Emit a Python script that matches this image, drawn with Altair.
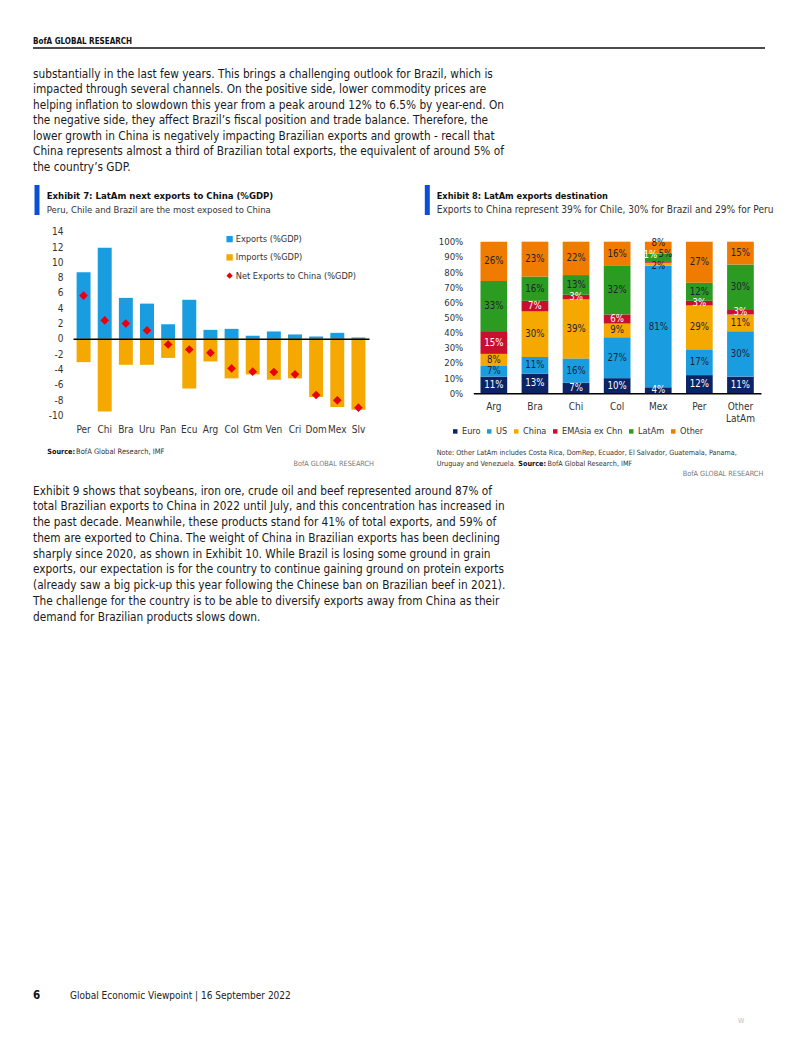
import altair as alt
import pandas as pd

FONT = "DejaVu Sans Condensed, DejaVu Sans, sans-serif"
W, H = 786, 1021

# ---------------- Exhibit 7 data ----------------
countries7 = ['Per', 'Chi', 'Bra', 'Uru', 'Pan', 'Ecu', 'Arg', 'Col', 'Gtm', 'Ven', 'Cri', 'Dom', 'Mex', 'Slv']
exports7 = [8.7, 11.9, 5.35, 4.6, 1.9, 5.1, 1.17, 1.3, 0.4, 0.96, 0.57, 0.3, 0.78, 0.17]
imports7 = [-3.05, -9.5, -3.4, -3.4, -2.5, -6.5, -2.96, -5.17, -4.65, -5.35, -5.17, -7.6, -8.9, -9.26]
net7 = [5.65, 2.4, 2.0, 1.1, -0.75, -1.4, -1.83, -3.87, -4.3, -4.35, -4.65, -7.35, -8.04, -9.0]
series7 = ['Exports (%GDP)', 'Imports (%GDP)', 'Net Exports to China (%GDP)']
colors7 = ['#1a9de0', '#f5a800', '#e8000b']
yticks7 = [-10, -8, -6, -4, -2, 0, 2, 4, 6, 8, 10, 12, 14]

# ---------------- Exhibit 8 data ----------------
cats8 = ['Arg', 'Bra', 'Chi', 'Col', 'Mex', 'Per', 'Other LatAm']
dests8 = ['Euro', 'US', 'China', 'EMAsia ex Chn', 'LatAm', 'Other']
euro8 = [11, 13, 7, 10, 4, 12, 11]
us8 = [7, 11, 16, 27, 81, 17, 30]
china8 = [8, 30, 39, 9, 2, 29, 11]
emasia8 = [15, 7, 3, 6, 1, 3, 3]
latam8 = [33, 16, 13, 32, 5, 12, 30]
other8 = [26, 23, 22, 16, 8, 27, 15]
colors8 = ['#0a2466', '#1a9de0', '#f5a800', '#c8102e', '#2c9b22', '#ef7b00']
yticks8 = [0, 0.1, 0.2, 0.3, 0.4, 0.5, 0.6, 0.7, 0.8, 0.9, 1.0]

# ---------------- Page text ----------------
header = "BofA GLOBAL RESEARCH"
para1 = [
    "substantially in the last few years. This brings a challenging outlook for Brazil, which is",
    "impacted through several channels. On the positive side, lower commodity prices are",
    "helping inflation to slowdown this year from a peak around 12% to 6.5% by year-end. On",
    "the negative side, they affect Brazil\u2019s fiscal position and trade balance. Therefore, the",
    "lower growth in China is negatively impacting Brazilian exports and growth - recall that",
    "China represents almost a third of Brazilian total exports, the equivalent of around 5% of",
    "the country\u2019s GDP.",
]
para2 = [
    "Exhibit 9 shows that soybeans, iron ore, crude oil and beef represented around 87% of",
    "total Brazilian exports to China in 2022 until July, and this concentration has increased in",
    "the past decade. Meanwhile, these products stand for 41% of total exports, and 59% of",
    "them are exported to China. The weight of China in Brazilian exports has been declining",
    "sharply since 2020, as shown in Exhibit 10. While Brazil is losing some ground in grain",
    "exports, our expectation is for the country to continue gaining ground on protein exports",
    "(already saw a big pick-up this year following the Chinese ban on Brazilian beef in 2021).",
    "The challenge for the country is to be able to diversify exports away from China as their",
    "demand for Brazilian products slows down.",
]
title7 = "Exhibit 7: LatAm next exports to China (%GDP)"
sub7 = "Peru, Chile and Brazil are the most exposed to China"
title8 = "Exhibit 8: LatAm exports destination"
sub8 = "Exports to China represent 39% for Chile, 30% for Brazil and 29% for Peru"
note8a = "Note: Other  LatAm includes Costa Rica,  DomRep, Ecuador,  El Salvador, Guatemala, Panama,"
note8b = "Uruguay and Venezuela."
source_txt = "BofA Global Research, IMF"
footer = "Global Economic Viewpoint | 16 September 2022"

DUMMY = alt.Data(values=[{}])


def T(text, x, y, size=12.5, weight='normal', color='#222', align='left', lh=None):
    kw = dict(font=FONT, fontSize=size, fontWeight=weight, color=color, align=align, baseline='alphabetic')
    if lh is not None:
        kw['lineHeight'] = lh
    return alt.Chart(DUMMY).mark_text(**kw).encode(
        x=alt.value(x), y=alt.value(y), text=alt.value(text))


def vbar(x, y0, y1, color='#0b4fd6', w=5):
    return alt.Chart(DUMMY).mark_rule(color=color, strokeWidth=w).encode(
        x=alt.value(x), y=alt.value(y0), y2=alt.value(y1))


texts = [
    T(header, 25, 35.8, size=8, weight='bold', color='#111'),
    alt.Chart(DUMMY).mark_rule(color='#111', strokeWidth=1.3).encode(
        x=alt.value(25), x2=alt.value(757), y=alt.value(40)),
    T(para1, 25, 69.5, size=11.75, lh=15.5, color='#1a1a1a'),
    T(para2, 25, 486.5, size=11.75, lh=15.75, color='#1a1a1a'),
    vbar(29, 177, 207),
    T(title7, 38.7, 190.8, size=9.5, weight='bold', color='#111'),
    T(sub7, 38.7, 204.8, size=9.45, color='#333'),
    vbar(419.3, 177, 207),
    T(title8, 428.7, 190.8, size=9.2, weight='bold', color='#111'),
    T(sub8, 428.7, 204.8, size=10.1, color='#333'),
    T("Source:", 39.3, 446.3, size=7.2, weight='bold', color='#111'),
    T(source_txt, 68, 446.3, size=7.5, color='#333'),
    T(header, 366, 458, size=7.25, color='#777', align='right'),
    T(note8a, 428.7, 446.5, size=7.2, color='#333'),
    T(note8b, 428.7, 457.5, size=7.2, color='#333'),
    T("Source:", 510.3, 457.5, size=7.2, weight='bold', color='#111'),
    T(source_txt, 539.5, 457.5, size=7.2, color='#333'),
    T(header, 755.3, 468, size=7.25, color='#777', align='right'),
    T("6", 25, 991, size=11.5, weight='bold', color='#111'),
    T(footer, 62, 991, size=10, color='#222'),
    T("W", 733, 1015, size=7, color='#bbb', align='center'),
]

# ---------------- Exhibit 7 chart ----------------
bars7_df = pd.DataFrame({
    'country': countries7 * 2,
    'series': [series7[0]] * len(countries7) + [series7[1]] * len(countries7),
    'value': exports7 + imports7,
})
net7_df = pd.DataFrame({'country': countries7, 'series': series7[2], 'value': net7})

x7 = alt.X('country:N', sort=countries7, title=None,
           scale=alt.Scale(range=[65, 361], paddingInner=0.34, paddingOuter=0.17),
           axis=alt.Axis(orient='bottom', offset=330.8 - H, domain=True, domainColor='black',
                         domainWidth=1.5, ticks=False, labelPadding=86, labelAngle=0,
                         labelFontSize=10, labelColor='#333', labelFont=FONT, grid=False, zindex=1))
y7 = alt.Y('value:Q', title=None, stack=None,
           scale=alt.Scale(domain=[-10, 14], range=[407.3, 223.7], nice=False, zero=False),
           axis=alt.Axis(orient='left', offset=-65, values=yticks7, domain=False, ticks=False,
                         grid=False, labelPadding=10, labelFontSize=10, labelColor='#333',
                         labelFont=FONT, labelExpr="'' + datum.value"))
leg7 = alt.Legend(orient='none', legendX=217, legendY=226.5, title=None, direction='vertical',
                  symbolSize=40, labelFont=FONT, labelFontSize=9.2, labelColor='#333',
                  labelOffset=1.5, rowPadding=8.3, padding=0, symbolStrokeWidth=0)
color7 = alt.Color('series:N', scale=alt.Scale(domain=series7, range=colors7), legend=leg7)

bars7 = alt.Chart(bars7_df).mark_bar().encode(x=x7, y=y7, color=color7)
pts7 = alt.Chart(net7_df).mark_point(shape='diamond', filled=True, size=75, opacity=1).encode(
    x=x7, y=y7, color=color7,
    shape=alt.Shape('series:N', scale=alt.Scale(domain=series7, range=['square', 'square', 'diamond']),
                    legend=leg7))
chart7 = alt.layer(bars7, pts7)

# ---------------- Exhibit 8 chart ----------------
vals8 = [euro8, us8, china8, emasia8, latam8, other8]
rows = []
for i, c in enumerate(cats8):
    for j, d in enumerate(dests8):
        rows.append({'cat': c, 'dest': d, 'ord': j, 'value': vals8[j][i]})
df8 = pd.DataFrame(rows)

x8 = alt.X('cat:N', sort=cats8, title=None,
           scale=alt.Scale(range=[465.3, 753], paddingInner=0.35, paddingOuter=0.175),
           axis=alt.Axis(orient='bottom', offset=385.3 - H, domain=True, domainColor='black',
                         domainWidth=1.5, ticks=False, labelPadding=8, labelAngle=0,
                         labelExpr="split(datum.label, ' ')", labelLineHeight=12.6,
                         labelFontSize=10, labelColor='#333', labelFont=FONT, grid=False, zindex=1))
yscale8 = alt.Scale(domain=[0, 1], range=[385.3, 233.7], nice=False)
yaxis8 = alt.Axis(orient='left', offset=-465.3, values=yticks8, format='.0%', domain=False,
                  ticks=False, grid=False, labelPadding=10.6, labelFontSize=9.5,
                  labelColor='#333', labelFont=FONT)
leg8 = alt.Legend(orient='none', legendX=442.7, legendY=418.7, title=None, direction='horizontal',
                  symbolType='square', symbolSize=20, labelFont=FONT, labelFontSize=9.1,
                  labelColor='#333', labelOffset=2.2, columnPadding=4, padding=0, symbolStrokeWidth=0)

bars8 = alt.Chart(df8).mark_bar().encode(
    x=x8,
    y=alt.Y('value:Q', stack='normalize', title=None, scale=yscale8, axis=yaxis8),
    color=alt.Color('dest:N', scale=alt.Scale(domain=dests8, range=colors8), legend=leg8),
    order=alt.Order('ord:Q', sort='ascending'),
)
# crowded labels of thin segments are nudged apart (as Excel does) so they stay readable
DX = ("datum.value < 3 && datum.ord % 2 == 1 ? -8 : "
      "(datum.value <= 5 && datum.ord == 4 ? 7 : 0)")
DY = ("datum.value < 3 ? (datum.ord % 2 == 1 ? -7 : 2) : "
      "(datum.value <= 5 && datum.ord == 4 ? -3 : "
      "(datum.value < 10 && datum.ord == 5 ? -5 : 0))")
labels8 = alt.Chart(df8).transform_joinaggregate(
    total='sum(value)', groupby=['cat']
).transform_window(
    cum='sum(value)', groupby=['cat'], sort=[alt.SortField('ord')], frame=[None, 0]
).transform_calculate(
    mid='(datum.cum - datum.value / 2) / datum.total',
    lab="datum.value + '%'",
).mark_text(
    font=FONT, fontSize=9.6, align='center', baseline='middle',
    dx=alt.expr(DX), dy=alt.expr(DY),
).encode(
    x=x8,
    y=alt.Y('mid:Q', title=None, scale=yscale8, axis=yaxis8),
    text='lab:N',
    color=alt.condition("datum.dest == 'Euro' || datum.dest == 'EMAsia ex Chn'",
                        alt.value('white'), alt.value('#1e2235')),
)
chart8 = alt.layer(bars8, labels8)

chart = alt.layer(*texts, chart7, chart8).resolve_scale(
    x='independent', y='independent', color='independent', shape='independent'
).properties(
    width=W, height=H, autosize=alt.AutoSizeParams(type='none'), padding=0
).configure_view(stroke=None)

chart.save("out.html", embed_options={"renderer": "svg", "actions": False})
